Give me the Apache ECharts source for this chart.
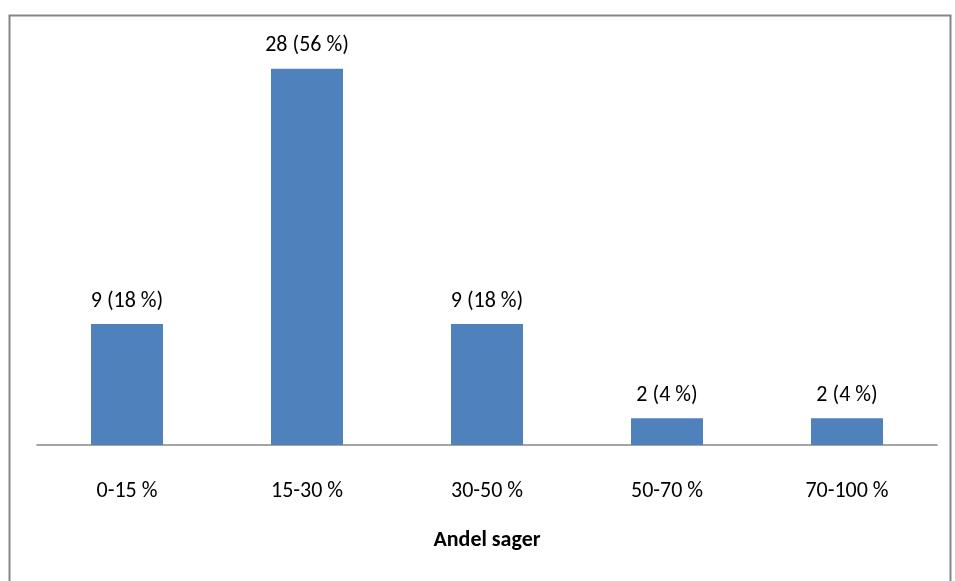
<!DOCTYPE html>
<html><head><meta charset="utf-8">
<script src="https://cdn.jsdelivr.net/npm/echarts@6/dist/echarts.min.js"></script>
<style>html,body{margin:0;padding:0;background:#fff}#c{width:955px;height:581px}</style>
</head><body><div id="c"></div>
<script>
const categories = ['0-15 %', '15-30 %', '30-50 %', '50-70 %', '70-100 %'];
const counts = [9, 28, 9, 2, 2];
const percents = [18, 56, 18, 4, 4];
const axisTitle = 'Andel sager';
const font = 'Carlito, Calibri, "Open Sans", "Noto Sans", sans-serif';
const chart = echarts.init(document.getElementById('c'));
chart.setOption({
  animation: false,
  graphic: [{type: 'rect', left: 7, top: 13, shape: {width: 941, height: 600},
    style: {fill: 'none', stroke: '#868686', lineWidth: 2}, silent: true}],
  grid: {left: 37, right: 18, top: 42, bottom: 136},
  xAxis: {
    type: 'category', data: categories,
    axisLine: {lineStyle: {color: '#868686', width: 1.5}},
    axisTick: {show: false},
    axisLabel: {color: '#000', fontSize: 22, fontFamily: font, margin: 35},
    name: axisTitle, nameLocation: 'middle', nameGap: 84,
    nameTextStyle: {color: '#000', fontSize: 22, fontWeight: 'bold', fontFamily: font}
  },
  yAxis: {type: 'value', min: 0, max: 30, show: false, splitLine: {show: false}},
  series: [{
    type: 'bar', data: counts, barWidth: 72,
    itemStyle: {color: '#4F81BD'},
    label: {show: true, position: 'top', distance: 12, color: '#000', fontSize: 22, fontFamily: font,
      formatter: p => counts[p.dataIndex] + ' (' + percents[p.dataIndex] + ' %)'}
  }]
});
</script></body></html>
